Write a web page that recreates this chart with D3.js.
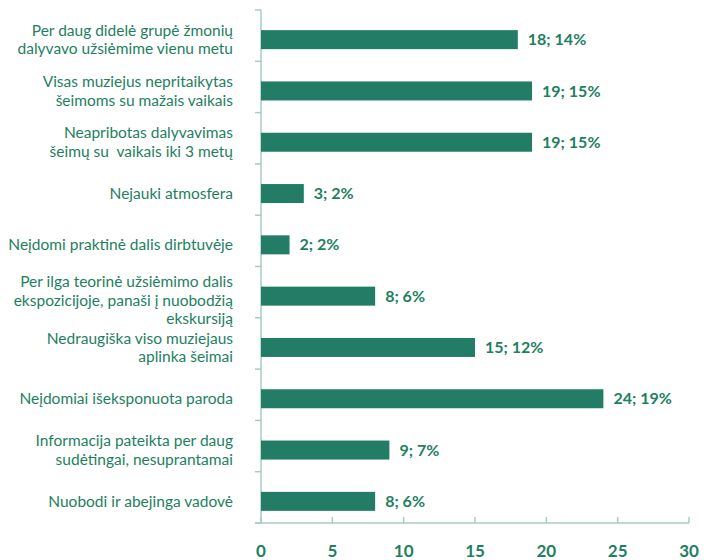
<!DOCTYPE html>
<html>
<head>
<meta charset="utf-8">
<script src="https://cdn.jsdelivr.net/npm/d3@7"></script>
<style>
  html, body { margin: 0; padding: 0; background: #fff; }
  svg { display: block; }
</style>
</head>
<body>
<div id="chart"></div>
<script>
// Kategorijos (eilutės atskirtos \n)
const CATEGORIES = [
  'Per daug didelė grupė žmonių\ndalyvavo užsiėmime vienu metu',
  'Visas muziejus nepritaikytas\nšeimoms su mažais vaikais',
  'Neapribotas dalyvavimas\nšeimų su  vaikais iki 3 metų',
  'Nejauki atmosfera',
  'Neįdomi praktinė dalis dirbtuvėje',
  'Per ilga teorinė užsiėmimo dalis\nekspozicijoje, panaši į nuobodžią\nekskursiją',
  'Nedraugiška viso muziejaus\naplinka šeimai',
  'Neįdomiai išeksponuota paroda',
  'Informacija pateikta per daug\nsudėtingai, nesuprantamai',
  'Nuobodi ir abejinga vadovė'
]
const COUNTS = [18, 19, 19, 3, 2, 8, 15, 24, 9, 8]
const PERCENTS = [14, 15, 15, 2, 2, 6, 12, 19, 7, 6]
const X_TICKS = [0, 5, 10, 15, 20, 25, 30]

const STYLE = {
  width: 708,
  height: 560,
  margin: { top: 10, bottom: 37, left: 261, right: 19 },
  barColor: '#237c65',
  textColor: '#1e8060',
  axisColor: '#a8cdbf',
  barHeight: 19,
  font: 'Lato, "Open Sans", sans-serif'
}

function drawChart () {
  const { width, height, margin, barColor, textColor, axisColor, barHeight, font } = STYLE

  const svg = d3.select('#chart')
    .append('svg')
    .attr('width', width)
    .attr('height', height)

  const x = d3.scaleLinear()
    .domain([0, 30])
    .range([margin.left, width - margin.right])

  const y = d3.scaleBand()
    .domain(d3.range(CATEGORIES.length))
    .range([margin.top, height - margin.bottom])

  const barY = i => y(i) + (y.bandwidth() - barHeight) / 2 + 4

  // Ašys
  const axisG = svg.append('g').attr('stroke', axisColor).attr('stroke-width', 1.5)
  axisG.append('line')
    .attr('x1', x(0)).attr('x2', x(0))
    .attr('y1', margin.top).attr('y2', height - margin.bottom)
  axisG.append('line')
    .attr('x1', x(0) - 6).attr('x2', x(30))
    .attr('y1', height - margin.bottom).attr('y2', height - margin.bottom)
  axisG.selectAll('.ytick')
    .data(d3.range(CATEGORIES.length + 1))
    .join('line')
    .attr('x1', x(0) - 6).attr('x2', x(0))
    .attr('y1', i => i < CATEGORIES.length ? y(i) : height - margin.bottom)
    .attr('y2', i => i < CATEGORIES.length ? y(i) : height - margin.bottom)
  axisG.selectAll('.xtick')
    .data(X_TICKS)
    .join('line')
    .attr('x1', d => x(d)).attr('x2', d => x(d))
    .attr('y1', height - margin.bottom).attr('y2', height - margin.bottom - 6)

  svg.append('g')
    .selectAll('text')
    .data(X_TICKS)
    .join('text')
    .attr('x', d => x(d))
    .attr('y', height - 3)
    .attr('text-anchor', 'middle')
    .style('font-family', font)
    .style('font-size', '17px')
    .style('font-weight', 700)
    .style('fill', textColor)
    .text(d => d)

  // Stulpeliai
  svg.append('g')
    .selectAll('rect')
    .data(COUNTS)
    .join('rect')
    .attr('x', x(0))
    .attr('y', (d, i) => barY(i))
    .attr('width', d => x(d) - x(0))
    .attr('height', barHeight)
    .attr('fill', barColor)

  // Reikšmės
  svg.append('g')
    .selectAll('text')
    .data(COUNTS)
    .join('text')
    .attr('x', d => x(d) + 10)
    .attr('y', (d, i) => barY(i) + barHeight / 2)
    .attr('dy', '0.35em')
    .style('font-family', font)
    .style('font-size', '16px')
    .style('font-weight', 700)
    .style('fill', textColor)
    .text((d, i) => `${d}; ${PERCENTS[i]}%`)

  // Kategorijų pavadinimai
  const lineH = 18.5
  svg.append('g')
    .selectAll('text')
    .data(CATEGORIES)
    .join('text')
    .attr('text-anchor', 'end')
    .style('font-family', font)
    .style('font-size', '15.5px')
    .style('fill', textColor)
    .each(function (d, i) {
      const lines = d.split('\n')
      const shift = lines.length > 2 ? 4 : 0 // trijų eilučių tekstas šiek tiek žemiau
      const cy = barY(i) + barHeight / 2 - (lines.length - 1) * lineH / 2 + shift
      d3.select(this).selectAll('tspan')
        .data(lines)
        .join('tspan')
        .attr('x', 233)
        .attr('y', (l, j) => cy + j * lineH)
        .attr('dy', '0.35em')
        .style('white-space', 'pre')
        .text(l => l)
    })
}

window.addEventListener('DOMContentLoaded', () => {
  drawChart()
})
</script>
</body>
</html>
